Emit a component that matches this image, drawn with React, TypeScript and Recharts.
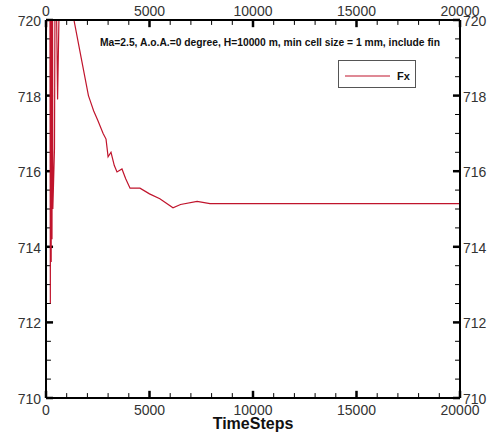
import { LineChart, Line, XAxis, YAxis, ReferenceLine } from "recharts";

// Fx history over time steps
const steps = [
  0, 180, 210, 230, 250, 270, 290, 310, 330, 410, 450, 560, 700, 1000, 1350, 1700,
  2050, 2125, 2300, 2500, 2760, 2900, 3000, 3140, 3300, 3430, 3670, 3850, 4060, 4540, 5000, 5500,
  6135, 6500, 7300, 7920, 10000, 15000, 20000,
];
const fx = [
  719, 725, 712.5, 724, 713.6, 723.5, 714.2, 723, 715, 716.6, 723, 717.9, 722.5, 721.5, 720, 719,
  718, 717.88, 717.6, 717.35, 717.0, 716.85, 716.38, 716.5, 716.15, 715.98, 716.06, 715.8, 715.55, 715.55, 715.4, 715.27,
  715.03, 715.12, 715.2, 715.14, 715.14, 715.14, 715.14,
];

const xMajorTicks = [0, 5000, 10000, 15000, 20000];
const xTicks = [
  0, 1000, 2000, 3000, 4000, 5000, 6000, 7000, 8000, 9000, 10000,
  11000, 12000, 13000, 14000, 15000, 16000, 17000, 18000, 19000, 20000,
];
const yMajorTicks = [710, 712, 714, 716, 718, 720];
const yTicks = [
  710, 710.5, 711, 711.5, 712, 712.5, 713, 713.5, 714, 714.5, 715,
  715.5, 716, 716.5, 717, 717.5, 718, 718.5, 719, 719.5, 720,
];

const subtitle = "Ma=2.5, A.o.A.=0 degree, H=10000 m, min cell size = 1 mm, include fin";
const seriesName = "Fx";

const data = steps.map((s, i) => ({ step: s, fx: fx[i] }));

const X_MIN = 0, X_MAX = 20000, Y_MIN = 710, Y_MAX = 720;
// inward tick lengths in axis units (~7px major, ~5px minor)
const X_MAJ = 340, X_MIN_LEN = 240;
const Y_MAJ = 0.19, Y_MIN_LEN = 0.13;

const FONT = "'Liberation Sans', Arial, sans-serif";
const LABEL = "#333";
const LINE = "#c0142c";

const makeLabel = (side: "bottom" | "top" | "left" | "right") => (props: any) => {
  const x = Number(props.x);
  const y = Number(props.y);
  const v = props.payload.value;
  const common = { fontFamily: FONT, fontSize: 14, fill: LABEL };
  if (side === "bottom") return <text {...common} x={x} y={y + 17} textAnchor="middle">{v}</text>;
  if (side === "top") return <text {...common} x={x} y={y - 4} textAnchor="middle">{v}</text>;
  if (side === "left") return <text {...common} x={x - 5} y={y + 6} textAnchor="end">{v}</text>;
  return <text {...common} x={x + 3} y={y + 6} textAnchor="start">{v}</text>;
};

const axisLine = { stroke: "#000", strokeWidth: 2 };

// tick marks pointing into the plot on all four sides
function tickMarks() {
  const out: any[] = [];
  xTicks.forEach((v) => {
    const major = xMajorTicks.includes(v);
    const len = major ? Y_MAJ : Y_MIN_LEN;
    const sw = major ? 2.5 : 1;
    out.push(
      <ReferenceLine key={`b${v}`} xAxisId="bottom" yAxisId="left" ifOverflow="visible"
        segment={[{ x: v, y: Y_MIN }, { x: v, y: Y_MIN + len }]} stroke="#000" strokeWidth={sw} />,
      <ReferenceLine key={`t${v}`} xAxisId="bottom" yAxisId="left" ifOverflow="visible"
        segment={[{ x: v, y: Y_MAX }, { x: v, y: Y_MAX - len }]} stroke="#000" strokeWidth={sw} />
    );
  });
  yTicks.forEach((v) => {
    const major = yMajorTicks.includes(v);
    const len = major ? X_MAJ : X_MIN_LEN;
    const sw = major ? 2.5 : 1;
    out.push(
      <ReferenceLine key={`l${v}`} xAxisId="bottom" yAxisId="left" ifOverflow="visible"
        segment={[{ x: X_MIN, y: v }, { x: X_MIN + len, y: v }]} stroke="#000" strokeWidth={sw} />,
      <ReferenceLine key={`r${v}`} xAxisId="bottom" yAxisId="left" ifOverflow="visible"
        segment={[{ x: X_MAX, y: v }, { x: X_MAX - len, y: v }]} stroke="#000" strokeWidth={sw} />
    );
  });
  return out;
}

export default function App() {
  return (
    <div style={{ position: "absolute", left: 0, top: 0, width: 496, height: 441, background: "#fff" }}>
      <LineChart width={496} height={441} data={data} margin={{ top: 0, right: 0, bottom: 0, left: 0 }}>
        <XAxis
          xAxisId="bottom"
          orientation="bottom"
          type="number"
          dataKey="step"
          domain={[X_MIN, X_MAX]}
          ticks={xMajorTicks}
          interval={0}
          height={43}
          tickSize={0}
          tickMargin={0}
          tickLine={false}
          axisLine={axisLine}
          tick={makeLabel("bottom")}
          label={{
            value: "TimeSteps",
            position: "insideBottom",
            offset: 12,
            style: { fontFamily: FONT, fontSize: 16, fontWeight: "bold", fill: "#111" },
          }}
        />
        <XAxis
          xAxisId="top"
          orientation="top"
          type="number"
          dataKey="step"
          domain={[X_MIN, X_MAX]}
          ticks={xMajorTicks}
          interval={0}
          height={20}
          tickSize={0}
          tickMargin={0}
          tickLine={false}
          axisLine={axisLine}
          tick={makeLabel("top")}
        />
        <YAxis
          yAxisId="left"
          orientation="left"
          type="number"
          domain={[Y_MIN, Y_MAX]}
          allowDataOverflow
          ticks={yMajorTicks}
          interval={0}
          width={46}
          tickSize={0}
          tickMargin={0}
          tickLine={false}
          axisLine={axisLine}
          tick={makeLabel("left")}
        />
        <YAxis
          yAxisId="right"
          orientation="right"
          type="number"
          domain={[Y_MIN, Y_MAX]}
          allowDataOverflow
          ticks={yMajorTicks}
          interval={0}
          width={36}
          tickSize={0}
          tickMargin={0}
          tickLine={false}
          axisLine={axisLine}
          tick={makeLabel("right")}
        />
        {tickMarks()}
        <Line
          xAxisId="bottom"
          yAxisId="left"
          type="linear"
          dataKey="fx"
          name={seriesName}
          stroke={LINE}
          strokeWidth={1.2}
          dot={false}
          activeDot={false}
          isAnimationActive={false}
        />
      </LineChart>
      <svg
        width={496}
        height={441}
        style={{ position: "absolute", left: 0, top: 0, pointerEvents: "none" }}
      >
        <text
          x={100}
          y={46}
          fontFamily={FONT}
          fontSize={11}
          fontWeight="bold"
          fill="#111"
          textLength={340}
          lengthAdjust="spacingAndGlyphs"
        >
          {subtitle}
        </text>
        <rect x={338.5} y={60.5} width={77} height={27} fill="#fff" stroke="#555" strokeWidth={1} />
        <line x1={345} x2={390} y1={76} y2={76} stroke={LINE} strokeWidth={1.2} />
        <text x={397} y={80} fontFamily={FONT} fontSize={11} fontWeight="bold" fill="#111">
          {seriesName}
        </text>
      </svg>
    </div>
  );
}
